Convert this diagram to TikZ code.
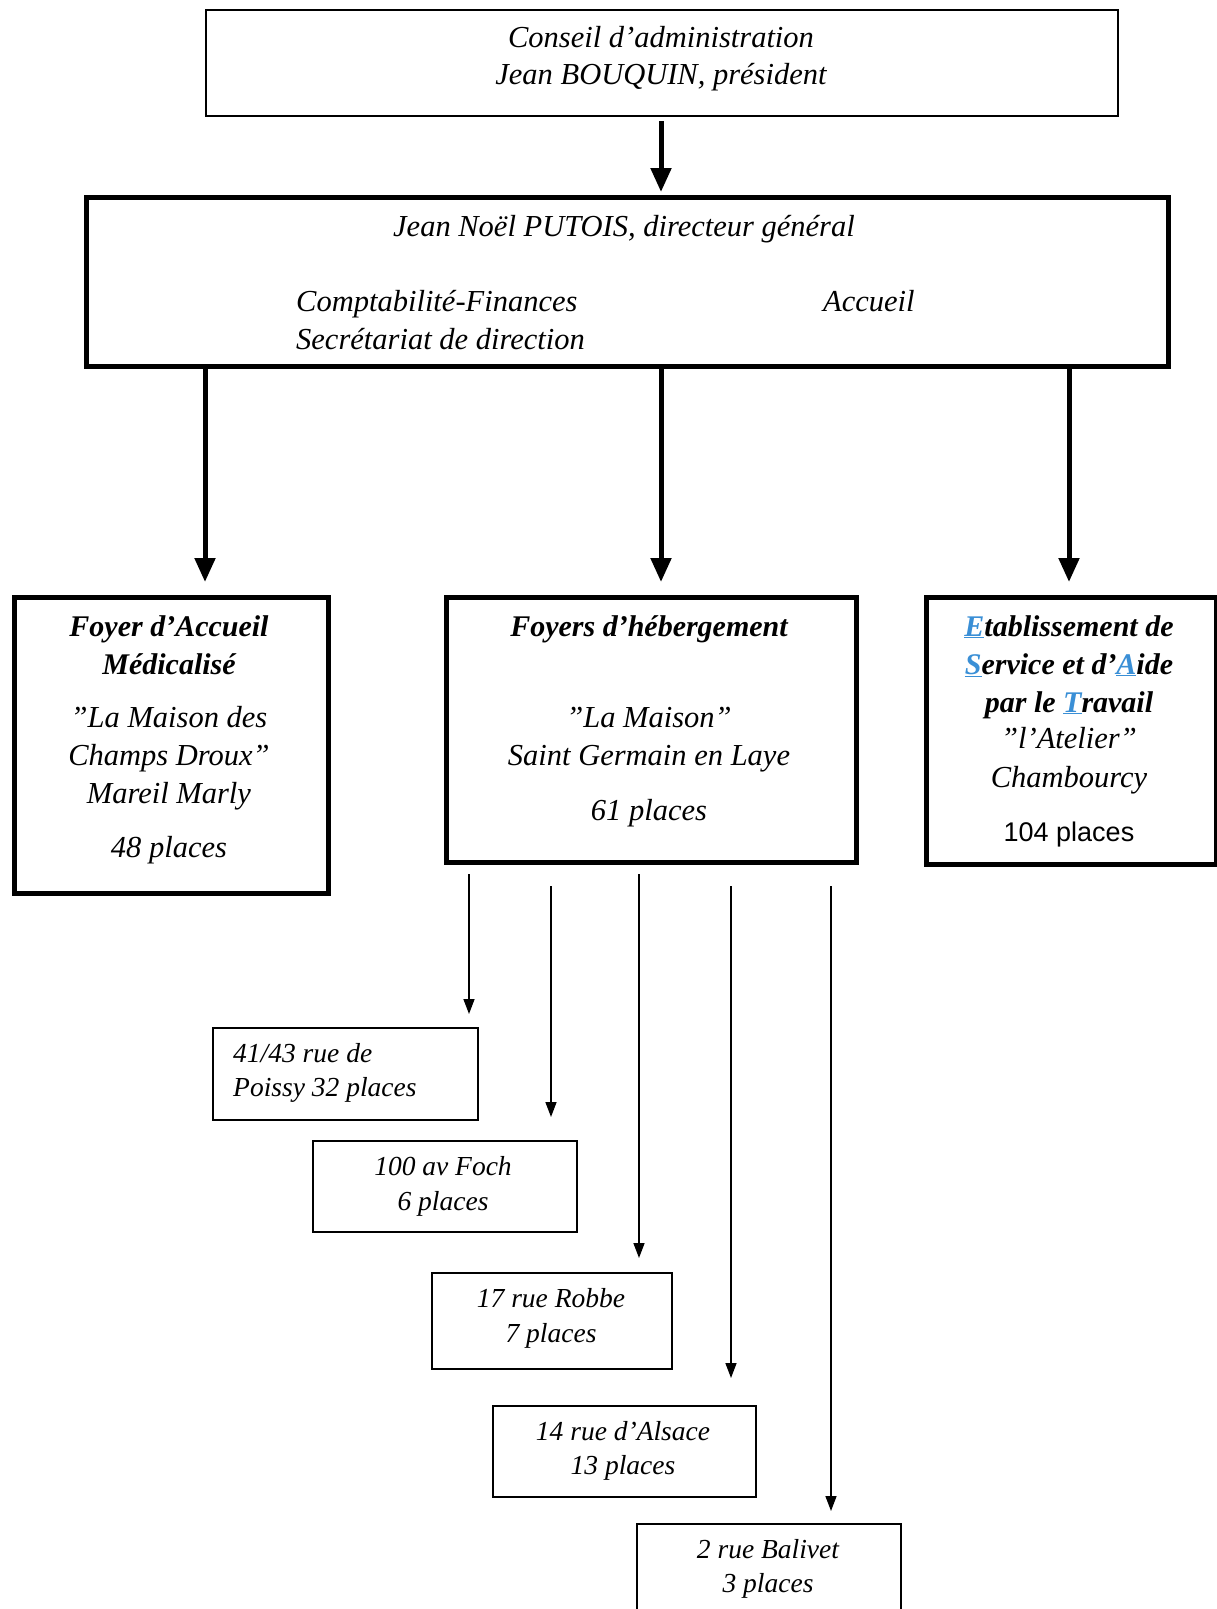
\documentclass[tikz,border=0pt]{standalone}
\usepackage{fontspec}
\setmainfont{Liberation Serif}
\newfontfamily\arialfont{Liberation Sans}
\usetikzlibrary{arrows.meta}
\definecolor{esatblue}{HTML}{3A8FD6}
\newcommand{\bl}[1]{\textcolor{esatblue}{\underline{#1}}}
\tikzset{
  thinbox/.style={draw=black, line width=1.5pt, anchor=north west, inner sep=0pt},
  thickbox/.style={draw=black, line width=5pt, anchor=north west, inner sep=0pt},
  bigtxt/.style={anchor=base, inner sep=0pt, font=\fontsize{30.5}{36}\selectfont\itshape},
  boldtxt/.style={anchor=base, inner sep=0pt, font=\fontsize{30}{36}\selectfont\bfseries\itshape},
  smalltxt/.style={anchor=base, inner sep=0pt, font=\fontsize{27.5}{32}\selectfont\itshape},
  bigarrow/.style={line width=5pt, -{Triangle[width=20pt,length=24pt]}},
  thinarrow/.style={line width=1.5pt, -{Triangle[width=11pt,length=15pt]}}
}
\begin{document}
\begin{tikzpicture}[x=1pt,y=-1pt]
\useasboundingbox (0,0) rectangle (1217,1609);
\fill[white] (0,0) rectangle (1217,1609);

% top box
\node[thinbox, minimum width=912pt, minimum height=106pt] (ca) at (205,9) {};
\node[bigtxt] (ca1) at (661,47) {Conseil d'administration};
\node[bigtxt] (ca2) at (661,84) {Jean BOUQUIN, président};

% director box
\node[thickbox, minimum width=1082pt, minimum height=169pt] (dir) at (84,195) {};
\node[bigtxt] (dir1) at (624,236) {Jean Noël PUTOIS, directeur général};
\node[bigtxt, anchor=base west] (dir2) at (296,311) {Comptabilité-Finances};
\node[bigtxt, anchor=base west] (dir3) at (296,349) {Secrétariat de direction};
\node[bigtxt, anchor=base west] (dir4) at (823,311) {Accueil};

% arrow CA -> director
\coordinate (a0s) at (661,121);
\coordinate (a0e) at (661,192);
\draw[bigarrow] (a0s) -- (a0e);

% three big boxes
\node[thickbox, minimum width=314pt, minimum height=296pt] (fam) at (12,595) {};
\node[thickbox, minimum width=410pt, minimum height=265pt] (fh) at (444,595) {};
\node[thickbox, minimum width=290pt, minimum height=267pt] (esat) at (924,595) {};

\coordinate (a1s) at (205,369); \coordinate (a1e) at (205,582);
\coordinate (a2s) at (661,369); \coordinate (a2e) at (661,582);
\coordinate (a3s) at (1069,369); \coordinate (a3e) at (1069,582);
\draw[bigarrow] (a1s) -- (a1e);
\draw[bigarrow] (a2s) -- (a2e);
\draw[bigarrow] (a3s) -- (a3e);

% FAM text
\node[boldtxt] (fam1) at (169,636) {Foyer d'Accueil};
\node[boldtxt] (fam2) at (169,674) {Médicalisé};
\node[bigtxt] (fam3) at (169,727) {"La Maison des};
\node[bigtxt] (fam4) at (169,765) {Champs Droux"};
\node[bigtxt] (fam5) at (169,803) {Mareil Marly};
\node[bigtxt] (fam6) at (169,857) {48 places};

% Foyers text
\node[boldtxt] (fh1) at (649,636) {Foyers d'hébergement};
\node[bigtxt] (fh2) at (649,727) {"La Maison"};
\node[bigtxt] (fh3) at (649,765) {Saint Germain en Laye};
\node[bigtxt] (fh4) at (649,820) {61 places};

% ESAT text
\node[boldtxt] (es1) at (1069,636) {\bl{E}tablissement de};
\node[boldtxt] (es2) at (1069,674) {\bl{S}ervice et d'\bl{A}ide};
\node[boldtxt] (es3) at (1069,712) {par le \bl{T}ravail};
\node[bigtxt] (es4) at (1069,748) {"l'Atelier"};
\node[bigtxt] (es5) at (1069,787) {Chambourcy};
\node[anchor=base, inner sep=0pt, font=\arialfont\fontsize{27}{32}\selectfont] (es6) at (1069,841) {104 places};

% small boxes
\node[thinbox, minimum width=265pt, minimum height=92pt] (b1) at (212,1027) {};
\node[smalltxt, anchor=base west] (b1a) at (233,1062) {41/43 rue de};
\node[smalltxt, anchor=base west] (b1b) at (233,1096) {Poissy 32 places};

\node[thinbox, minimum width=264pt, minimum height=91pt] (b2) at (312,1140) {};
\node[smalltxt] (b2a) at (443,1175) {100 av Foch};
\node[smalltxt] (b2b) at (443,1210) {6 places};

\node[thinbox, minimum width=240pt, minimum height=96pt] (b3) at (431,1272) {};
\node[smalltxt] (b3a) at (551,1307) {17 rue Robbe};
\node[smalltxt] (b3b) at (551,1342) {7 places};

\node[thinbox, minimum width=263pt, minimum height=91pt] (b4) at (492,1405) {};
\node[smalltxt] (b4a) at (623,1440) {14 rue d'Alsace};
\node[smalltxt] (b4b) at (623,1474) {13 places};

\node[thinbox, minimum width=264pt, minimum height=110pt] (b5) at (636,1523) {};
\node[smalltxt] (b5a) at (768,1558) {2 rue Balivet};
\node[smalltxt] (b5b) at (768,1592) {3 places};

% thin arrows
\coordinate (t1s) at (469,874);  \coordinate (t1e) at (469,1014);
\coordinate (t2s) at (551,886);  \coordinate (t2e) at (551,1117);
\coordinate (t3s) at (639,874);  \coordinate (t3e) at (639,1258);
\coordinate (t4s) at (731,886);  \coordinate (t4e) at (731,1378);
\coordinate (t5s) at (831,886);  \coordinate (t5e) at (831,1511);
\draw[thinarrow] (t1s) -- (t1e);
\draw[thinarrow] (t2s) -- (t2e);
\draw[thinarrow] (t3s) -- (t3e);
\draw[thinarrow] (t4s) -- (t4e);
\draw[thinarrow] (t5s) -- (t5e);
\end{tikzpicture}
\end{document}
